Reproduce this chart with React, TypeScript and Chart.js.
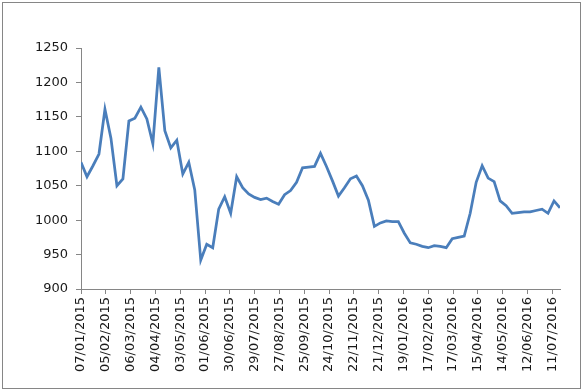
import React, { useEffect, useRef } from "react";
import { Chart, registerables } from "chart.js";

Chart.register(...registerables);

const startDate = "07/01/2015";

const tickLabels = [
  "07/01/2015", "05/02/2015", "06/03/2015", "04/04/2015", "03/05/2015",
  "01/06/2015", "30/06/2015", "29/07/2015", "27/08/2015", "25/09/2015",
  "24/10/2015", "22/11/2015", "21/12/2015", "19/01/2016", "17/02/2016",
  "17/03/2016", "15/04/2016", "14/05/2016", "12/06/2016", "11/07/2016",
];

// weekly values starting from startDate
const values = [
  1084, 1063, 1079, 1096, 1161, 1119, 1050, 1060, 1144, 1148,
  1164, 1147, 1111, 1222, 1130, 1105, 1116, 1067, 1084, 1044,
  942, 965, 960, 1016, 1034, 1010, 1063, 1047, 1038, 1033,
  1030, 1032, 1027, 1023, 1037, 1043, 1055, 1076, 1077, 1078,
  1097, 1078, 1057, 1035, 1047, 1060, 1064, 1050, 1029, 991,
  996, 999, 998, 998, 981, 967, 965, 962, 960, 963,
  962, 960, 973, 975, 977, 1010, 1055, 1079, 1061, 1056,
  1028, 1021, 1010, 1011, 1012, 1012, 1014, 1016, 1010, 1028,
  1018,
];

const yMin = 900;
const yMax = 1250;
const yStep = 50;

const DAY = 86400000;
function parseDMY(s: string): number {
  const [d, m, y] = s.split("/").map(Number);
  return Date.UTC(y, m - 1, d);
}
const t0 = parseDMY(startDate);
const dayOf = (s: string) => Math.round((parseDMY(s) - t0) / DAY);
const tickDays = tickLabels.map(dayOf);
const labelByDay: Record<number, string> = {};
tickLabels.forEach((l, i) => (labelByDay[tickDays[i]] = l));

const points = values.map((v, i) => ({ x: i * 7, y: v }));
const xMax = (values.length - 1) * 7;

const frame = {
  id: "frame",
  beforeDraw(chart: any) {
    const { ctx, width, height } = chart;
    ctx.save();
    ctx.fillStyle = "#ffffff";
    ctx.fillRect(0, 0, width, height);
    ctx.strokeStyle = "#868686";
    ctx.lineWidth = 1;
    ctx.strokeRect(2.5, 2.5, 578, 386);
    ctx.restore();
  },
};

export default function App() {
  const ref = useRef<HTMLCanvasElement | null>(null);
  useEffect(() => {
    if (!ref.current) return;
    const chart = new Chart(ref.current, {
      type: "line",
      data: {
        datasets: [
          {
            data: points,
            borderColor: "#4A7EBB",
            borderWidth: 2.75,
            pointRadius: 0,
            tension: 0,
            fill: false,
          },
        ],
      },
      options: {
        animation: false,
        responsive: false,
        devicePixelRatio: 1,
        layout: { padding: { top: 48, right: 24, left: 0, bottom: 0 } },
        plugins: { legend: { display: false }, tooltip: { enabled: false } },
        scales: {
          x: {
            type: "linear",
            min: 0,
            max: xMax,
            afterFit: (s: any) => {
              s.height = 102;
            },
            afterBuildTicks: (s: any) => {
              s.ticks = tickDays.map((v) => ({ value: v }));
            },
            ticks: {
              autoSkip: false,
              maxRotation: 90,
              minRotation: 90,
              padding: 3,
              color: "#1a1a1a",
              font: { family: "DejaVu Sans", size: 13 },
              callback: (v: any) => labelByDay[v as number] ?? "",
            },
            grid: {
              drawOnChartArea: false,
              drawTicks: true,
              tickLength: 5,
              color: "#868686",
            },
            border: { color: "#868686" },
          },
          y: {
            min: yMin,
            max: yMax,
            afterFit: (s: any) => {
              s.width = 81;
            },
            ticks: {
              stepSize: yStep,
              padding: 8,
              color: "#1a1a1a",
              font: { family: "DejaVu Sans", size: 13 },
              callback: (v: any) => String(v),
            },
            grid: {
              drawOnChartArea: false,
              drawTicks: true,
              tickLength: 5,
              color: "#868686",
            },
            border: { color: "#868686" },
          },
        },
      },
      plugins: [frame],
    });
    return () => chart.destroy();
  }, []);
  return (
    <div style={{ position: "absolute", left: 0, top: 0, width: 584, height: 391 }}>
      <canvas ref={ref} width={584} height={391} style={{ display: "block" }} />
    </div>
  );
}
